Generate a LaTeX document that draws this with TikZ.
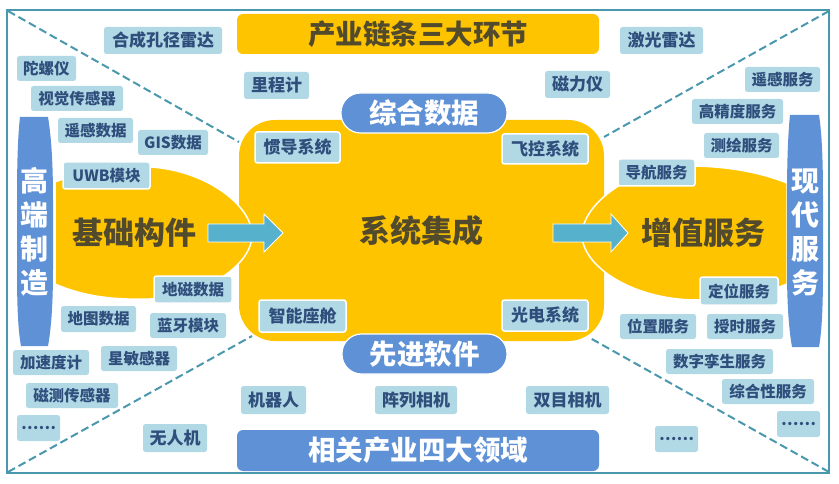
\documentclass[tikz,border=0pt]{standalone}
\usepackage{fontspec}
\setmainfont{Noto Sans CJK SC}
\usetikzlibrary{calc}
\definecolor{frameC}{HTML}{4A98AE}
\definecolor{labC}{HTML}{B0D9E5}
\definecolor{labT}{HTML}{2F4E7C}
\definecolor{goldC}{HTML}{FFC400}
\definecolor{blueC}{HTML}{5F91D6}
\definecolor{arrowC}{HTML}{55B1CC}
\definecolor{darkT}{HTML}{524A2C}
\tikzset{
  x=1pt,y=-1pt,
  lab/.style={fill=labC,text=labT,rounded corners=2.5pt,inner sep=0pt,font=\bfseries\fontsize{15.5}{17}\selectfont},
  labb/.style={lab,font=\bfseries\fontsize{17}{19}\selectfont},
  labw/.style={labb,draw=white,line width=1.5pt},
  labu/.style={lab,draw=white,line width=1.5pt},
  band/.style={rounded corners=6pt,inner sep=0pt,font=\bfseries\fontsize{27.5}{30}\selectfont},
  pill/.style={fill=blueC,text=white,draw=white,line width=1.2pt,rounded corners=19.5pt,inner sep=0pt,font=\bfseries\fontsize{27.5}{30}\selectfont},
  bigT/.style={text=darkT,inner sep=0pt,font=\bfseries\fontsize{31}{34}\selectfont},
  vertT/.style={text=white,inner sep=0pt,align=center,font=\bfseries\fontsize{28}{34}\selectfont},
  flow/.style={fill=arrowC,draw=white,line width=0.8pt},
  diag/.style={draw=frameC,line width=2pt,dash pattern=on 8pt off 4pt},
  blob/.style={fill=goldC,draw=white,line width=1.5pt},
  barrel/.style={fill=blueC}
}
% [style]{name}{x1}{y1}{x2}{y2}{text}
\newcommand\boxat[7][lab]{%
  \pgfmathsetmacro\cxv{(#3+#5)/2}\pgfmathsetmacro\cyv{(#4+#6)/2}%
  \pgfmathsetmacro\wv{#5-#3}\pgfmathsetmacro\hv{#6-#4}%
  \node[#1,minimum width=\wv pt,minimum height=\hv pt] (#2) at (\cxv,\cyv) {#7};}
\newcommand\lowdots{\raisebox{-3.5pt}{……}}
\begin{document}
\begin{tikzpicture}
\useasboundingbox (0,0) rectangle (839,484);
\fill[white] (0,0) rectangle (839,484);
% frame
\node[draw=frameC,line width=2.4pt,inner sep=0pt,minimum width=822pt,minimum height=463pt] (frame) at (418,241.5) {};
\coordinate (tl) at (8,11); \coordinate (tr) at (829,11);
\coordinate (bl) at (8,472); \coordinate (br) at (829,472);
\coordinate (tlEnd) at (239,142); \coordinate (trEnd) at (604,137);
\coordinate (blEnd) at (252,336); \coordinate (brEnd) at (590,338);
\draw[diag] (tl) -- (tlEnd);
\draw[diag] (tr) -- (trEnd);
\draw[diag] (bl) -- (blEnd);
\draw[diag] (br) -- (brEnd);
% bands
\boxat[band,fill=goldC,text=darkT]{chain}{237}{14}{599}{54}{产业链条三大环节}
\boxat[band,fill=blueC,text=white]{fields}{237}{430}{599}{471}{相关产业四大领域}
% centre
\boxat[fill=goldC,rounded corners=36pt,bigT]{core}{239}{120}{604}{341}{系统集成}
% side blobs
\path[blob] (55,182) .. controls (85,170) and (120,166) .. (150,167)
  .. controls (205,170) and (252,205) .. (252,235)
  .. controls (252,265) and (205,297) .. (150,299)
  .. controls (115,300) and (85,297) .. (55,284) -- cycle;
\path[blob] (787,183) .. controls (760,172) and (725,166) .. (690,166)
  .. controls (630,166) and (582,205) .. (582,235)
  .. controls (582,265) and (630,299) .. (695,300)
  .. controls (725,300) and (760,295) .. (787,284) -- cycle;
\node[bigT] (base) at (134,233) {基础构件};
\node[bigT] (value) at (703,233) {增值服务};
% arrows
\path[flow] (208,224) -- (264,224) -- (264,214) -- (283,233) -- (264,252) -- (264,242) -- (208,242) -- cycle;
\path[flow] (553,224) -- (611,224) -- (611,214) -- (628,233) -- (611,252) -- (611,242) -- (553,242) -- cycle;
% pills
\boxat[pill]{data}{341}{93}{507}{133}{综合数据}
\boxat[pill]{soft}{342}{334}{507}{374}{先进软件}
% barrels
\path[barrel] (20,117) -- (48,117) .. controls (51,135) and (53,160) .. (53,200)
  -- (53,270) .. controls (53,305) and (51,330) .. (48,346) -- (21,346)
  .. controls (18,330) and (17,305) .. (17,270) -- (17,200) .. controls (17,160) and (18,135) .. (20,117) -- cycle;
\node[vertT] (mfg) at (34,232) {高\\端\\制\\造};
\path[barrel] (790,115) -- (819,115) .. controls (822,135) and (823,160) .. (823,200)
  -- (823,270) .. controls (823,305) and (822,330) .. (819,347) -- (792,347)
  .. controls (789,330) and (787,305) .. (787,270) -- (787,200) .. controls (787,160) and (788,135) .. (790,115) -- cycle;
\node[vertT] (svc) at (805,232) {现\\代\\服\\务};
% labels left
\boxat[labb]{sar}{104}{27}{222}{54}{合成孔径雷达}
\boxat{gyro}{17}{56}{76}{81}{陀螺仪}
\boxat{vis}{31}{86}{123}{111}{视觉传感器}
\boxat{rsd}{58}{118}{133}{143}{遥感数据}
\boxat{gis}{138}{130}{208}{155}{GIS数据}
\boxat[labu]{uwb}{63}{162}{150}{189}{UWB模块}
\boxat[labb]{odo}{244}{72}{309}{99}{里程计}
\boxat[labw]{ins}{255}{132}{340}{163}{惯导系统}
\boxat[labu]{geo}{154}{276}{232}{303}{地磁数据}
\boxat{map}{61}{306}{136}{332}{地图数据}
\boxat{bt}{150}{313}{226}{338}{蓝牙模块}
\boxat{acc}{13}{350}{89}{375}{加速度计}
\boxat{star}{101}{346}{177}{371}{星敏感器}
\boxat{mag}{26}{383}{118}{408}{磁测传感器}
\boxat{d1}{17}{415}{60}{441}{\lowdots}
\boxat[labb]{uav}{143}{424}{207}{452}{无人机}
\boxat[labb]{robot}{241}{386}{306}{414}{机器人}
\boxat[labb]{array}{375}{386}{457}{414}{阵列相机}
\boxat[labb]{stereo}{526}{386}{609}{414}{双目相机}
\boxat[labw]{cab}{259}{300}{346}{332}{智能座舱}
% labels right
\boxat[labb]{lidar}{620}{27}{703}{54}{激光雷达}
\boxat[labb]{magn}{545}{71}{610}{98}{磁力仪}
\boxat{rss}{745}{67}{820}{92}{遥感服务}
\boxat{hp}{692}{99}{783}{124}{高精度服务}
\boxat{surv}{704}{133}{779}{158}{测绘服务}
\boxat[labu]{nav}{618}{159}{695}{186}{导航服务}
\boxat[labw]{fc}{502}{134}{588}{164}{飞控系统}
\boxat[labu]{pos}{700}{277}{778}{305}{定位服务}
\boxat{loc}{620}{314}{696}{339}{位置服务}
\boxat{tim}{707}{314}{783}{339}{授时服务}
\boxat{twin}{666}{349}{773}{374}{数字孪生服务}
\boxat{comp}{722}{379}{814}{404}{综合性服务}
\boxat{d2}{777}{411}{820}{437}{\lowdots}
\boxat{d3}{655}{426}{698}{452}{\lowdots}
\boxat[labw]{eo}{502}{300}{588}{331}{光电系统}
\end{tikzpicture}
\end{document}
